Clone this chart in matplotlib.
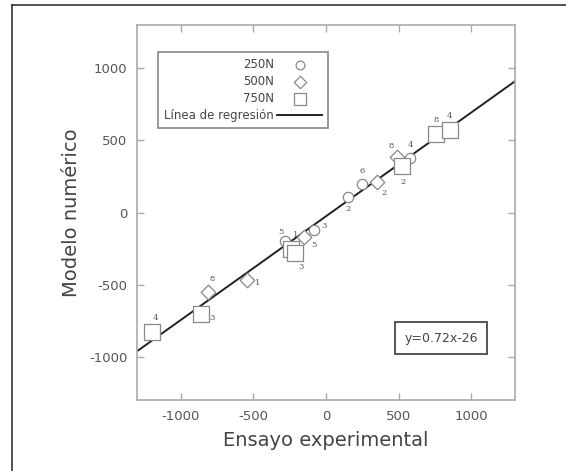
import numpy as np
import matplotlib.pyplot as plt
from matplotlib.lines import Line2D

plt.rcParams['axes.unicode_minus'] = False

# data
x_250 = [-280, -80, 150, 250, 580]
y_250 = [-200, -120, 110, 200, 380]
lab_250 = ['5', '3', '2', '6', '4']

x_500 = [-810, -540, -150, 350, 490]
y_500 = [-550, -470, -170, 210, 385]
lab_500 = ['8', '1', '5', '2', '8']

x_750 = [-1200, -860, -240, -210, 520, 760, 850]
y_750 = [-830, -705, -250, -280, 320, 545, 570]
lab_750 = ['4', '3', '1', '3', '2', '8', '4']

slope = 0.72
intercept = -26
ticks = [-1000, -500, 0, 500, 1000]

# label offsets in points (dx, dy)
off_250 = [(-3, 7), (7, 3), (0, -9), (0, 9), (0, 9)]
off_500 = [(3, 9), (7, -2), (7, -6), (5, -8), (-4, 8)]
off_750 = [(3, 10), (8, -3), (3, 10), (4, -10), (1, -11), (0, 10), (0, 10)]

fig = plt.figure(figsize=(5.66, 4.71), dpi=100)
ax = fig.add_axes([137/566, 71/471, 378/566, 375/471])

gray = '#888888'
ax.scatter(x_250, y_250, s=55, marker='o', facecolors='white', edgecolors=gray, linewidths=0.9, zorder=3, label='250N')
ax.scatter(x_500, y_500, s=55, marker='D', facecolors='white', edgecolors=gray, linewidths=0.9, zorder=3, label='500N')
ax.scatter(x_750, y_750, s=120, marker='s', facecolors='white', edgecolors=gray, linewidths=0.9, zorder=3, label='750N')

for xs, ys, labs, offs in [(x_250, y_250, lab_250, off_250),
                           (x_500, y_500, lab_500, off_500),
                           (x_750, y_750, lab_750, off_750)]:
    for xi, yi, t, o in zip(xs, ys, labs, offs):
        ax.annotate(t, (xi, yi), xytext=o, textcoords='offset points',
                    ha='center', va='center', fontsize=6, color='#555555',
                    family='DejaVu Serif', zorder=4)

xl = np.array([-1300, 1300])
ax.plot(xl, slope * xl + intercept, color='#222222', lw=1.4, zorder=2, label='Línea de regresión')

ax.set_xlim(-1300, 1300)
ax.set_ylim(-1300, 1300)
ax.set_xticks(ticks)
ax.set_yticks(ticks)
ax.tick_params(direction='in', length=5, width=1, color='#aaaaaa', labelcolor='#555555',
               labelsize=9.5, top=True, right=True, pad=7)
for s in ax.spines.values():
    s.set_color('#aaaaaa')
    s.set_linewidth(1.2)

ax.set_xlabel('Ensayo experimental', fontsize=14, color='#444444', labelpad=6)
ax.set_ylabel('Modelo numérico', fontsize=14, color='#444444', labelpad=6)

leg = ax.legend(loc='upper left', bbox_to_anchor=(0.056, 0.928), markerfirst=False,
                fontsize=8.5, fancybox=False, framealpha=1, edgecolor='#888888',
                borderpad=0.5, labelspacing=0.35, handlelength=3.8, handletextpad=0.3,
                borderaxespad=0, markerscale=0.85)
for t in leg.get_texts():
    t.set_color('#444444')
    t.set_ha('right')
leg.get_frame().set_linewidth(1.2)

ax.text(0.805, 0.165, 'y=0.72x-26', transform=ax.transAxes, ha='center', va='center',
        fontsize=9, color='#444444',
        bbox=dict(boxstyle='square,pad=0.75', facecolor='white', edgecolor='#555555', lw=1.4))

# outer frame (top and left borders)
fig.add_artist(Line2D([12/566, 12/566], [0, 1 - 5/471], transform=fig.transFigure, color='#333333', lw=1.2))
fig.add_artist(Line2D([12/566, 1], [1 - 5/471, 1 - 5/471], transform=fig.transFigure, color='#333333', lw=1.2))

fig.savefig('out.png', dpi=100)
